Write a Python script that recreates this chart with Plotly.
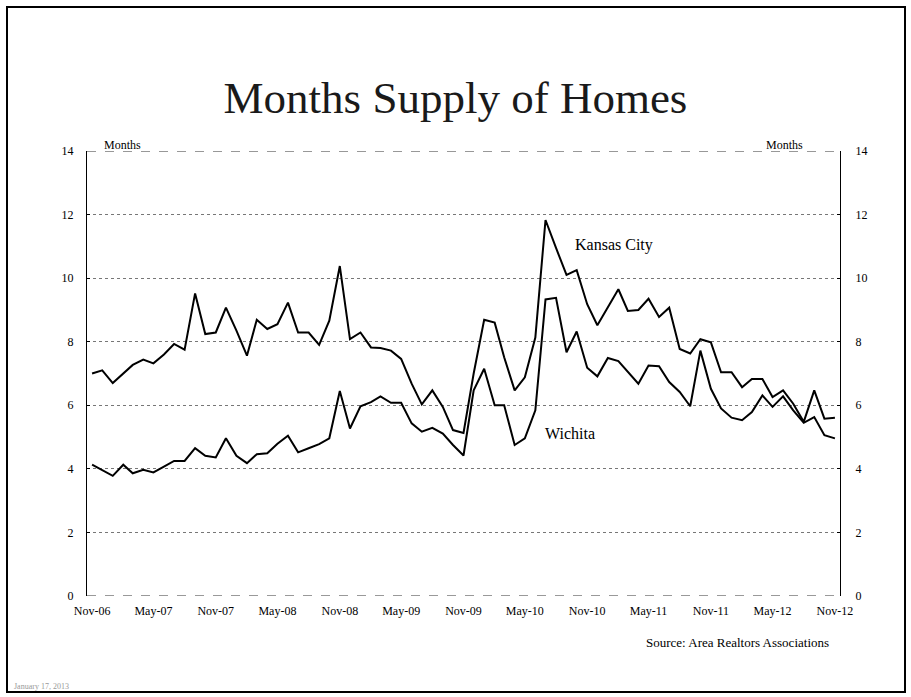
import pandas as pd
import plotly.graph_objects as go

# %% Data: months supply of homes, Nov-06 .. Nov-12 (monthly)
months = pd.date_range('2006-11-01', '2012-11-01', freq='MS')

kansas_city = [7.0, 7.1, 6.7, 7.0, 7.27, 7.44, 7.32, 7.6, 7.93, 7.75,
               9.52, 8.24, 8.29, 9.07, 8.35, 7.56, 8.69, 8.4, 8.55, 9.23,
               8.29, 8.29, 7.9, 8.66, 10.38, 8.08, 8.29, 7.82, 7.8, 7.72,
               7.46, 6.68, 6.03, 6.47, 5.95, 5.22, 5.13, 7.0, 8.69, 8.6,
               7.51, 6.47, 6.88, 8.13, 11.83, 10.95, 10.1, 10.25, 9.18, 8.52,
               9.07, 9.65, 8.97, 9.0, 9.35, 8.78, 9.07, 7.77, 7.63, 8.08,
               7.98, 7.04, 7.04, 6.57, 6.83, 6.83, 6.26, 6.47, 6.05, 5.48,
               6.47, 5.58, 5.61]

wichita = [4.13, 3.97, 3.78, 4.13, 3.86, 3.97, 3.89, 4.07, 4.25, 4.25,
           4.65, 4.41, 4.36, 4.96, 4.41, 4.18, 4.46, 4.49, 4.79, 5.04,
           4.52, 4.65, 4.78, 4.96, 6.45, 5.27, 5.97, 6.1, 6.28, 6.08,
           6.08, 5.43, 5.17, 5.29, 5.11, 4.75, 4.42, 6.47, 7.15, 6.0,
           6.0, 4.75, 4.96, 5.84, 9.33, 9.38, 7.67, 8.32, 7.18, 6.91,
           7.49, 7.39, 7.04, 6.68, 7.25, 7.23, 6.73, 6.42, 5.97, 7.72,
           6.52, 5.9, 5.61, 5.53, 5.79, 6.31, 5.95, 6.28, 5.84, 5.45,
           5.63, 5.06, 4.96]

y_ticks = [0, 2, 4, 6, 8, 10, 12, 14]

# %% Layout helpers (page pixels -> paper fractions)
W, H = 911, 697
L, R, T, B = 87, 71, 151, 101
PW, PH = W - L - R, H - T - B

def px(x):
    return (x - L) / PW

def py(y):
    return (H - B - y) / PH

SERIF = 'Liberation Serif'

def label(text, x, y, size, color='black', anchor='center'):
    fig.add_annotation(text=text, x=px(x), y=py(y), xref='paper', yref='paper',
                       xanchor=anchor, yanchor='middle', showarrow=False,
                       font=dict(family=SERIF, size=size, color=color))

# %% Figure
fig = go.Figure()
fig.add_trace(go.Scatter(x=months, y=kansas_city, mode='lines', name='Kansas City',
                         line=dict(color='black', width=2), yaxis='y'))
fig.add_trace(go.Scatter(x=months, y=wichita, mode='lines', name='Wichita',
                         line=dict(color='black', width=2), yaxis='y2'))

axis_y = dict(range=[0, 14], tickvals=y_ticks, showgrid=True, gridcolor='#777',
              griddash='dot', gridwidth=1, zeroline=False, showline=True,
              linecolor='black', linewidth=1, ticks='inside', ticklen=3,
              tickcolor='black', tickfont=dict(family=SERIF, size=12, color='black'))

fig.update_layout(
    width=W, height=H,
    margin=dict(l=L, r=R, t=T, b=B),
    paper_bgcolor='white', plot_bgcolor='white',
    showlegend=False,
    font=dict(family=SERIF, color='black'),
    title=dict(text='Months Supply of Homes', x=0.5, xanchor='center',
               y=1 - 97 / H, yanchor='middle',
               font=dict(family=SERIF, size=45, color='#1a1a1a')),
    xaxis=dict(range=['2006-10-17', '2012-11-16'], tick0='2006-11-01', dtick='M6',
               tickformat='%b-%y', showgrid=False, zeroline=False, showline=False,
               ticks='', ticklabelstandoff=6,
               tickfont=dict(family=SERIF, size=12, color='black')),
    yaxis=dict(side='left', ticklabelstandoff=10, **axis_y),
    yaxis2=dict(side='right', overlaying='y', ticklabelstandoff=12, **axis_y),
)

# top (14) and bottom (0) rules of the plot box
for level in (y_ticks[0], y_ticks[-1]):
    fig.add_shape(type='line', xref='paper', yref='y', x0=0, x1=1, y0=level, y1=level,
                  line=dict(color='#333', width=1, dash='dash'))

# Series labels, axis unit labels, source, date
label('Kansas City', 614, 245, 16)
label('Wichita', 570, 433, 16)
label('Months', 122, 145, 12)
label('Months', 784, 145, 12)
label('Source: Area Realtors Associations', 831, 642, 13, anchor='right')
label('January 17, 2013', 12, 686, 8, color='#999', anchor='left')

# Slide frame
fig.add_shape(type='rect', xref='paper', yref='paper',
              x0=px(7), x1=px(905), y0=py(692), y1=py(7),
              line=dict(color='black', width=2), fillcolor='rgba(0,0,0,0)', layer='below')

# drop the default page margin so the figure sits at the window origin
fig.write_html('out.html', config={'displayModeBar': False},
               post_script="document.body.style.margin='0';")
